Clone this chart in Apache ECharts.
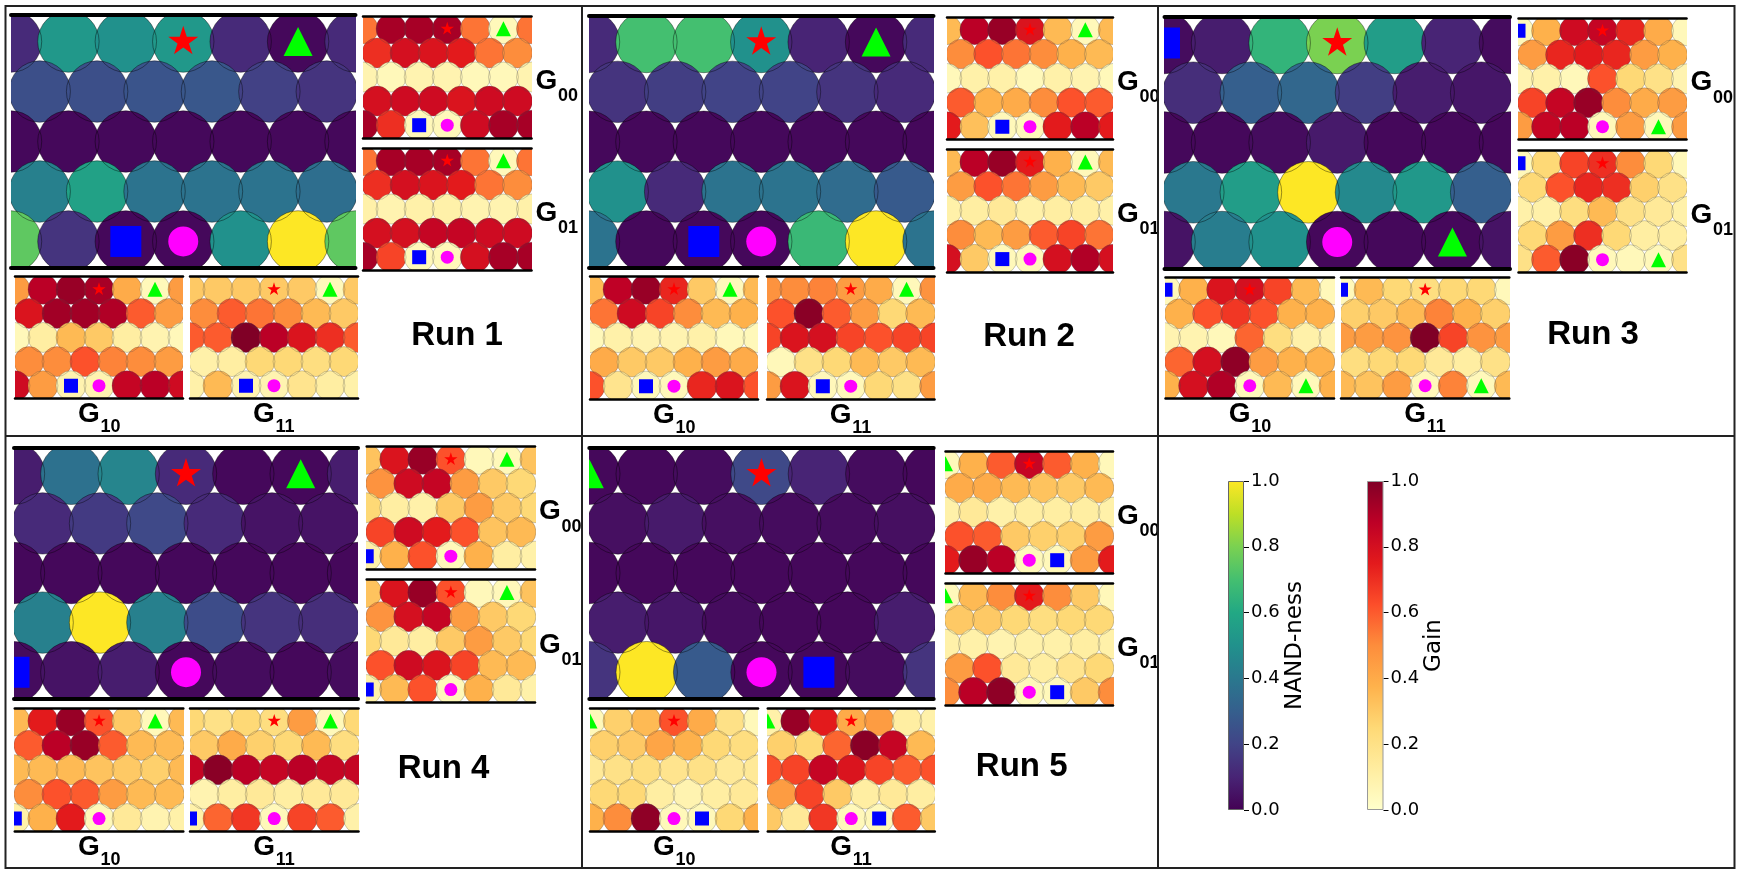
<!DOCTYPE html>
<html><head><meta charset="utf-8">
<script src="https://cdn.jsdelivr.net/npm/echarts@6/dist/echarts.min.js"></script>
<style>html,body{margin:0;padding:0;background:#fff}#chart{width:1741px;height:874px}</style>
</head><body><div id="chart"></div>
<script>
// ---------------- DATA ----------------
// Each grid: 5 rows, top to bottom. Rows 0,2,4 have 7 cells (x = 0..6), rows 1,3 have 6 cells (x = 0.5..5.5).
const runNames = ['Run 1', 'Run 2', 'Run 3', 'Run 4', 'Run 5'];
const gateNames = ['00', '01', '10', '11'];
const cbarTickLabels = ['0.0', '0.2', '0.4', '0.6', '0.8', '1.0'];

const run1_nand = [[0.12,0.53,0.5,0.53,0.12,0.02,0.12],[0.24,0.24,0.26,0.27,0.19,0.15],[0.02,0.02,0.02,0.02,0.02,0.02,0.02],[0.43,0.57,0.38,0.38,0.38,0.36],[0.75,0.15,0.02,0.02,0.5,1.0,0.75]];
const run1_g00 = [[0.55,0.92,0.92,0.92,0.55,0.05,0.55],[0.7,0.8,0.78,0.75,0.55,0.5],[0.08,0.05,0.08,0.08,0.05,0.05,0.08],[0.8,0.82,0.82,0.78,0.82,0.82],[0.92,0.7,0.05,0.05,0.82,0.92,0.92]];
const run1_g01 = [[0.55,0.92,0.92,0.92,0.55,0.05,0.55],[0.7,0.8,0.78,0.75,0.55,0.5],[0.1,0.08,0.1,0.1,0.08,0.08,0.1],[0.8,0.8,0.85,0.85,0.82,0.82],[0.92,0.65,0.05,0.05,0.8,0.92,0.92]];
const run1_g10 = [[0.45,0.88,0.95,0.92,0.4,0.05,0.45],[0.78,0.93,0.93,0.9,0.6,0.45],[0.05,0.12,0.35,0.3,0.12,0.08,0.05],[0.5,0.5,0.62,0.52,0.5,0.45],[0.82,0.45,0.08,0.08,0.85,0.88,0.82]];
const run1_g11 = [[0.3,0.3,0.3,0.3,0.3,0.05,0.3],[0.5,0.6,0.55,0.5,0.35,0.3],[0.6,0.6,1.0,0.88,0.78,0.7,0.6],[0.1,0.12,0.25,0.25,0.22,0.25],[0.1,0.35,0.08,0.08,0.18,0.12,0.1]];
const run1_markers = [['star',0,3],['triangle',0,5],['square',4,2],['circle',4,3]];

const run2_nand = [[0.12,0.7,0.7,0.5,0.1,0.02,0.12],[0.15,0.18,0.2,0.2,0.15,0.12],[0.02,0.02,0.02,0.02,0.02,0.02,0.02],[0.5,0.12,0.38,0.38,0.35,0.28],[0.38,0.02,0.02,0.02,0.67,1.0,0.38]];
const run2_g00 = [[0.35,0.88,0.95,0.78,0.35,0.05,0.35],[0.5,0.62,0.55,0.5,0.38,0.35],[0.05,0.1,0.1,0.05,0.1,0.08,0.05],[0.6,0.38,0.4,0.5,0.62,0.6],[0.75,0.33,0.05,0.05,0.75,0.88,0.75]];
const run2_g01 = [[0.35,0.88,0.95,0.75,0.38,0.05,0.35],[0.45,0.62,0.55,0.45,0.35,0.3],[0.1,0.12,0.15,0.1,0.12,0.12,0.1],[0.5,0.35,0.45,0.6,0.65,0.55],[0.8,0.3,0.05,0.05,0.8,0.9,0.8]];
const run2_g10 = [[0.35,0.87,0.95,0.72,0.3,0.05,0.35],[0.55,0.82,0.65,0.5,0.35,0.38],[0.05,0.1,0.08,0.08,0.1,0.05,0.05],[0.4,0.3,0.3,0.38,0.45,0.4],[0.62,0.18,0.05,0.05,0.72,0.78,0.62]];
const run2_g11 = [[0.48,0.5,0.52,0.45,0.4,0.05,0.48],[0.62,0.98,0.6,0.45,0.25,0.35],[0.65,0.78,0.8,0.65,0.62,0.65,0.65],[0.05,0.2,0.25,0.35,0.3,0.35],[0.45,0.78,0.05,0.05,0.25,0.2,0.45]];
const run2_markers = [['star',0,3],['triangle',0,5],['square',4,2],['circle',4,3]];

const run3_nand = [[0.03,0.08,0.65,0.8,0.55,0.1,0.03],[0.13,0.3,0.33,0.18,0.08,0.06],[0.02,0.02,0.03,0.07,0.02,0.02,0.02],[0.4,0.55,1.0,0.47,0.53,0.3],[0.05,0.42,0.5,0.02,0.02,0.02,0.05]];
const run3_g00 = [[0.05,0.38,0.82,0.85,0.72,0.4,0.05],[0.45,0.72,0.75,0.72,0.45,0.38],[0.08,0.1,0.05,0.62,0.25,0.2,0.08],[0.65,0.85,0.95,0.5,0.4,0.45],[0.45,0.85,0.88,0.05,0.45,0.05,0.45]];
const run3_g01 = [[0.05,0.25,0.65,0.7,0.5,0.25,0.05],[0.25,0.62,0.72,0.7,0.28,0.2],[0.1,0.1,0.22,0.35,0.2,0.15,0.1],[0.25,0.45,0.7,0.25,0.12,0.12],[0.2,0.6,0.98,0.05,0.05,0.05,0.2]];
const run3_g10 = [[0.05,0.38,0.78,0.8,0.65,0.35,0.05],[0.38,0.62,0.68,0.62,0.38,0.38],[0.08,0.08,0.05,0.58,0.22,0.1,0.08],[0.58,0.8,0.97,0.45,0.38,0.38],[0.38,0.8,0.9,0.05,0.35,0.05,0.38]];
const run3_g11 = [[0.05,0.35,0.25,0.22,0.25,0.25,0.05],[0.28,0.3,0.35,0.52,0.38,0.28],[0.45,0.45,0.48,1.0,0.65,0.48,0.45],[0.22,0.25,0.25,0.15,0.12,0.2],[0.35,0.32,0.45,0.05,0.52,0.05,0.35]];
const run3_markers = [['star',0,3],['square',0,0],['circle',4,3],['triangle',4,5]];

const run4_nand = [[0.08,0.37,0.45,0.12,0.02,0.02,0.08],[0.12,0.17,0.22,0.12,0.05,0.05],[0.02,0.02,0.02,0.02,0.02,0.02,0.02],[0.43,1.0,0.43,0.23,0.15,0.13],[0.03,0.05,0.08,0.02,0.03,0.02,0.03]];
const run4_g00 = [[0.32,0.78,0.95,0.62,0.05,0.05,0.32],[0.48,0.82,0.85,0.45,0.3,0.25],[0.25,0.12,0.1,0.3,0.45,0.3,0.25],[0.65,0.82,0.75,0.62,0.32,0.35],[0.1,0.38,0.62,0.05,0.38,0.12,0.1]];
const run4_g01 = [[0.32,0.78,0.95,0.62,0.05,0.05,0.32],[0.48,0.8,0.85,0.45,0.3,0.25],[0.25,0.15,0.12,0.3,0.45,0.3,0.25],[0.62,0.82,0.78,0.65,0.35,0.35],[0.1,0.35,0.62,0.05,0.38,0.15,0.1]];
const run4_g10 = [[0.35,0.75,0.95,0.62,0.3,0.05,0.35],[0.6,0.88,0.95,0.6,0.35,0.35],[0.35,0.35,0.35,0.32,0.3,0.28,0.35],[0.5,0.62,0.6,0.45,0.35,0.35],[0.1,0.38,0.75,0.05,0.15,0.08,0.1]];
const run4_g11 = [[0.25,0.2,0.25,0.22,0.45,0.05,0.25],[0.3,0.4,0.28,0.25,0.35,0.22],[0.85,0.98,0.88,0.85,0.88,0.85,0.85],[0.08,0.12,0.15,0.12,0.15,0.15],[0.1,0.58,0.68,0.05,0.65,0.6,0.1]];
const run4_markers = [['star',0,3],['triangle',0,5],['square',4,0],['circle',4,3]];

const run5_nand = [[0.02,0.02,0.03,0.22,0.1,0.03,0.02],[0.04,0.07,0.04,0.03,0.03,0.04],[0.02,0.02,0.02,0.02,0.02,0.02,0.02],[0.08,0.06,0.03,0.02,0.02,0.08],[0.15,1.0,0.28,0.02,0.02,0.03,0.15]];
const run5_g00 = [[0.05,0.38,0.6,0.85,0.6,0.38,0.05],[0.4,0.4,0.35,0.32,0.3,0.35],[0.1,0.15,0.1,0.12,0.12,0.12,0.1],[0.62,0.6,0.3,0.28,0.28,0.45],[0.75,0.95,0.88,0.05,0.05,0.45,0.75]];
const run5_g01 = [[0.05,0.35,0.5,0.75,0.5,0.3,0.05],[0.3,0.3,0.25,0.22,0.25,0.25],[0.1,0.1,0.08,0.1,0.1,0.12,0.1],[0.45,0.62,0.15,0.12,0.18,0.25],[0.5,0.88,0.97,0.05,0.05,0.3,0.5]];
const run5_g10 = [[0.05,0.28,0.35,0.62,0.4,0.2,0.05],[0.28,0.3,0.42,0.38,0.25,0.22],[0.15,0.2,0.22,0.18,0.2,0.15,0.15],[0.25,0.25,0.12,0.08,0.12,0.15],[0.38,0.5,0.97,0.05,0.05,0.25,0.38]];
const run5_g11 = [[0.1,0.95,0.75,0.4,0.45,0.12,0.1],[0.28,0.25,0.58,0.98,0.85,0.35],[0.62,0.65,0.85,0.78,0.65,0.6,0.62],[0.45,0.65,0.3,0.12,0.15,0.12],[0.3,0.15,0.68,0.05,0.05,0.6,0.3]];
const run5_markers = [['star',0,3],['triangle',0,0],['circle',4,3],['square',4,4]];

// ---------------- STYLE / LAYOUT ----------------
const VIRIDIS = ['#440154','#482475','#414487','#355f8d','#2a788e','#21918c','#22a884','#44bf70','#7ad151','#bddf26','#fde725'];
const YLORRD = ['#ffffcc','#ffeda0','#fed976','#feb24c','#fd8d3c','#fc4e2a','#e31a1c','#bd0026','#800026'];
const MARKER_COLOR = {star:'#ff0000', triangle:'#00ff00', square:'#0000ff', circle:'#ff00ff'};
const MARKER_SIZE = {big:{star:31.5, triangle:29, square:31, circle:30}, small:{star:14, triangle:15, square:14, circle:13}};
const markerKinds = ['star','triangle','square','circle'];
const HEX = Math.sqrt(3) / 2;
const YMARGIN = 0.46;
const CELL_R = 0.535;

const LAYOUT = [
  {big:[11,15,344.5,253], g:[[363,16,168.5,122],[363,148,168.5,122],[15,276.5,168,122],[190,276.5,168,122]], label:[457,336]},
  {big:[589,15.5,344.5,252.5], g:[[947,17,166,122.5],[947,149,166,123],[590,276.5,168,122.5],[767,276.5,167.5,122.5]], label:[1029,337]},
  {big:[1164.5,16.5,345.5,252], g:[[1518.5,18,168,121.5],[1518.5,150.5,168,122],[1165.5,277,168.5,121.5],[1341,277,168.3,121.5]], label:[1593,335]},
  {big:[14,447.5,344,251], g:[[366.7,446.5,168.3,122.5],[366.7,579.5,168.3,123],[14.8,708,168.5,123.5],[190,708,168.5,123.5]], label:[443.5,768.7]},
  {big:[589.3,447.5,344.4,251], g:[[945.5,451,167.5,122],[945.5,583,167.5,122],[590,708,168,123.5],[767.8,708,167,123.5]], label:[1021.7,767]}
];

const runs = [
  {nand:run1_nand, gates:[run1_g00,run1_g01,run1_g10,run1_g11], markers:run1_markers},
  {nand:run2_nand, gates:[run2_g00,run2_g01,run2_g10,run2_g11], markers:run2_markers},
  {nand:run3_nand, gates:[run3_g00,run3_g01,run3_g10,run3_g11], markers:run3_markers},
  {nand:run4_nand, gates:[run4_g00,run4_g01,run4_g10,run4_g11], markers:run4_markers},
  {nand:run5_nand, gates:[run5_g00,run5_g01,run5_g10,run5_g11], markers:run5_markers}
];

// ---------------- BUILD ----------------
const grids = [], xAxes = [], yAxes = [], series = [], graphics = [];
const nandSeries = [], gainSeries = [];

function cellX(r, c) { return r % 2 === 0 ? c : c + 0.5; }

function addHexPanel(rect, values, isBig, markers, kind) {
  const gi = grids.length;
  grids.push({left:rect[0], top:rect[1], width:rect[2], height:rect[3], containLabel:false, outerBoundsMode:'none'});
  const lw = isBig ? 4 : 2.5;
  ['bottom','top'].forEach(pos => xAxes.push({
    gridIndex:gi, type:'value', min:0, max:6, position:pos, z:10,
    axisLine:{show:true, onZero:false, lineStyle:{color:'#000', width:lw}},
    axisTick:{show:false}, axisLabel:{show:false}, splitLine:{show:false}
  }));
  yAxes.push({gridIndex:gi, type:'value', min:-4*HEX - YMARGIN, max:YMARGIN, show:false});
  const xi = xAxes.length - 2, yi = yAxes.length - 1;
  const data = [];
  values.forEach((row, r) => row.forEach((v, c) => data.push([cellX(r, c), -r * HEX, v])));
  const edge = isBig ? 'rgba(0,0,0,0.5)' : 'rgba(70,70,70,0.45)';
  // filled cells (colour through visualMap)
  series.push({
    type:'custom', xAxisIndex:xi, yAxisIndex:yi, clip:true, silent:true, z:2,
    encode:{x:0, y:1}, data:data,
    renderItem:function(params, api){
      const p = api.coord([api.value(0), api.value(1)]);
      const u = api.size([1, 1]);
      return {type:'circle', shape:{cx:p[0], cy:p[1], r:u[0]*CELL_R},
              style:{fill:api.visual('color'), stroke:'none'}};
    }
  });
  (kind === 'nand' ? nandSeries : gainSeries).push(series.length - 1);
  // cell outlines drawn over all faces
  series.push({
    type:'custom', xAxisIndex:xi, yAxisIndex:yi, clip:true, silent:true, z:2,
    encode:{x:0, y:1}, data:data,
    renderItem:function(params, api){
      const p = api.coord([api.value(0), api.value(1)]);
      const u = api.size([1, 1]);
      return {type:'circle', shape:{cx:p[0], cy:p[1], r:u[0]*CELL_R},
              style:{fill:'none', stroke:edge, lineWidth:isBig ? 0.8 : 0.6}};
    }
  });
  const mdata = markers.map(m => [cellX(m[1], m[2]), -m[1] * HEX, markerKinds.indexOf(m[0])]);
  const sizes = isBig ? MARKER_SIZE.big : MARKER_SIZE.small;
  series.push({
    type:'custom', xAxisIndex:xi, yAxisIndex:yi, clip:true, silent:true, z:3,
    encode:{x:0, y:1}, data:mdata,
    renderItem:function(params, api){
      const p = api.coord([api.value(0), api.value(1)]);
      const k = markerKinds[api.value(2)];
      const s = sizes[k], col = MARKER_COLOR[k];
      if (k === 'circle') return {type:'circle', shape:{cx:p[0], cy:p[1], r:s/2}, style:{fill:col}};
      if (k === 'square') return {type:'rect', shape:{x:p[0]-s/2, y:p[1]-s/2, width:s, height:s}, style:{fill:col}};
      if (k === 'triangle') return {type:'polygon', shape:{points:[[p[0], p[1]-s/2],[p[0]+s/2, p[1]+s/2],[p[0]-s/2, p[1]+s/2]]}, style:{fill:col}};
      const R = s/2, ri = R*0.382, pts = [];
      for (let i = 0; i < 10; i++) {
        const a = -Math.PI/2 + i*Math.PI/5, rr = (i % 2) ? ri : R;
        pts.push([p[0] + rr*Math.cos(a), p[1] + rr*Math.sin(a)]);
      }
      return {type:'polygon', shape:{points:pts}, style:{fill:col}};
    }
  });
}

function txt(x, y, text, font, align) {
  graphics.push({type:'text', x:x, y:y, silent:true, z:20,
    style:{text:text, font:font, fill:'#000', textAlign:align||'left', textVerticalAlign:'middle', align:align||'left', verticalAlign:'middle'}});
}

runs.forEach((run, ri) => {
  const L = LAYOUT[ri];
  addHexPanel(L.big, run.nand, true, run.markers, 'nand');
  run.gates.forEach((g, gi) => {
    const rc = L.g[gi];
    addHexPanel(rc, g, false, run.markers, 'gain');
    let gx, gy, sy;
    if (gi < 2) { gx = rc[0] + rc[2] + 4; gy = rc[1] + rc[3]/2 + 4; sy = rc[1] + rc[3]/2 + 19; }
    else { gx = rc[0] + rc[2]/2 - 21; gy = rc[1] + rc[3] + 16; sy = rc[1] + rc[3] + 29; }
    txt(gx, gy, 'G', 'bold 28px "Liberation Sans"');
    txt(gx + 22.5, sy, gateNames[gi], 'bold 18px "Liberation Sans"');
  });
  txt(L.label[0], L.label[1], runNames[ri], 'bold 33px "Liberation Sans"', 'center');
});

function addColorbar(rect, stops, name, nameGap, border) {
  const gi = grids.length;
  grids.push({left:rect[0], top:rect[1], width:rect[2], height:rect[3], containLabel:false, outerBoundsMode:'none'});
  xAxes.push({gridIndex:gi, type:'category', data:[name], show:false});
  yAxes.push({gridIndex:gi, type:'value', min:0, max:1, interval:0.2, position:'right',
    axisLine:{show:false}, splitLine:{show:false},
    axisTick:{show:true, length:5, lineStyle:{color:'#000', width:1}},
    axisLabel:{show:true, margin:7, color:'#000', fontSize:18, fontFamily:'DejaVu Sans',
      formatter:function(v){ return cbarTickLabels[Math.round(v*5)]; }},
    name:name, nameLocation:'middle', nameRotate:90, nameGap:nameGap,
    nameTextStyle:{color:'#000', fontSize:23, fontFamily:'DejaVu Sans'}
  });
  series.push({type:'bar', xAxisIndex:xAxes.length-1, yAxisIndex:yAxes.length-1, data:[1], barWidth:'100%', silent:true,
    itemStyle:{color:new echarts.graphic.LinearGradient(0,1,0,0, stops.map((c,i)=>({offset:i/(stops.length-1), color:c}))),
      borderColor:border, borderWidth:1}});
}
addColorbar([1228,481,16,329], VIRIDIS, 'NAND-ness', 37, '#666');
addColorbar([1367,481,16.5,329], YLORRD, 'Gain', 35, '#999');

// frame
graphics.push({type:'rect', silent:true, z:30, shape:{x:5.5, y:6, width:1729, height:862}, style:{fill:'none', stroke:'#222', lineWidth:2}});
graphics.push({type:'line', silent:true, z:30, shape:{x1:582, y1:6, x2:582, y2:868}, style:{stroke:'#222', lineWidth:2}});
graphics.push({type:'line', silent:true, z:30, shape:{x1:1158, y1:6, x2:1158, y2:868}, style:{stroke:'#222', lineWidth:2}});
graphics.push({type:'line', silent:true, z:30, shape:{x1:5.5, y1:436, x2:1734.5, y2:436}, style:{stroke:'#222', lineWidth:2}});

const chart = echarts.init(document.getElementById('chart'), null, {renderer:'canvas'});
chart.setOption({
  animation:false,
  backgroundColor:'#ffffff',
  grid:grids, xAxis:xAxes, yAxis:yAxes,
  visualMap:[
    {type:'continuous', show:false, min:0, max:1, dimension:2, seriesIndex:nandSeries, inRange:{color:VIRIDIS}},
    {type:'continuous', show:false, min:0, max:1, dimension:2, seriesIndex:gainSeries, inRange:{color:YLORRD}}
  ],
  series:series,
  graphic:graphics
});
</script></body></html>
